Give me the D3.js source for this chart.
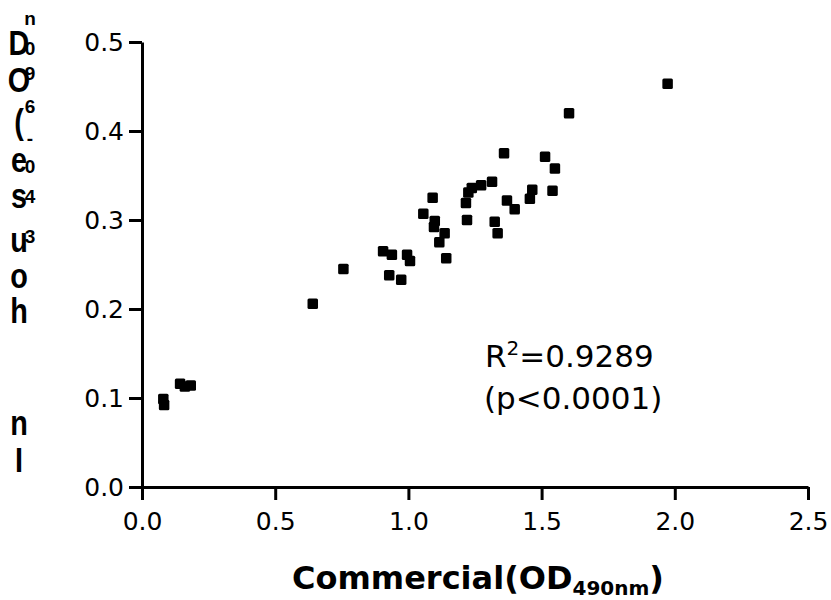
<!DOCTYPE html>
<html>
<head>
<meta charset="utf-8">
<script src="https://cdn.jsdelivr.net/npm/d3@7"></script>
<style>
  html, body { margin: 0; padding: 0; background: #fff; }
  svg { display: block; }
</style>
</head>
<body>
<svg id="chart" width="831" height="600"></svg>
<script>
// ---- data ----
const commercial = [1.973, 1.603, 1.359, 1.513, 1.550, 1.314, 1.273, 1.238, 1.225, 1.465,
                    1.456, 1.541, 1.091, 1.216, 1.370, 1.399, 1.056, 1.099, 1.096, 1.220,
                    1.324, 1.335, 1.136, 1.116, 1.142, 0.905, 0.938, 0.995, 1.006, 0.928,
                    0.973, 0.756, 0.641, 0.080, 0.083, 0.143, 0.161, 0.183];
const inHouse    = [0.453, 0.420, 0.375, 0.371, 0.358, 0.343, 0.339, 0.336, 0.331, 0.334,
                    0.324, 0.333, 0.325, 0.319, 0.322, 0.312, 0.307, 0.299, 0.292, 0.300,
                    0.298, 0.285, 0.285, 0.275, 0.257, 0.265, 0.261, 0.261, 0.254, 0.238,
                    0.233, 0.245, 0.206, 0.099, 0.092, 0.116, 0.113, 0.114];
const xTicks = [0.0, 0.5, 1.0, 1.5, 2.0, 2.5];
const yTicks = [0.0, 0.1, 0.2, 0.3, 0.4, 0.5];
const xTitleMain = "Commercial(OD";
const xTitleSub = "490nm";
const xTitleEnd = ")";
const statLine1 = ["R", "2", "=0.9289"];
const statLine2 = "(p<0.0001)";
// garbled vertical y-axis title, as it appears in the picture
const yTitleChars = ["D", "O", "(", "e", "s", "u", "o", "h", "n", "I"];
const yTitleSmall = ["n", "0", "9", "6", "-", "0", "4", "3"];

// ---- layout ----
const svg = d3.select("#chart");
const x = d3.scaleLinear().domain([0, 2.5]).range([142, 808]);
const y = d3.scaleLinear().domain([0, 0.5]).range([487, 42]);
const tickFont = "DejaVu Sans, Verdana, sans-serif";

const fmt = d3.format(".1f");

const xAxis = svg.append("g")
  .attr("transform", `translate(0,${y(0)})`)
  .call(d3.axisBottom(x).tickValues(xTicks).tickFormat(fmt).tickSize(13).tickSizeOuter(0).tickPadding(12));
const yAxis = svg.append("g")
  .attr("transform", `translate(${x(0)},0)`)
  .call(d3.axisLeft(y).tickValues(yTicks).tickFormat(fmt).tickSize(13).tickSizeOuter(0).tickPadding(5));

[xAxis, yAxis].forEach(g => {
  g.select(".domain").attr("stroke", "#000").attr("stroke-width", 3);
  g.selectAll(".tick line").attr("stroke", "#000").attr("stroke-width", 3);
  g.selectAll(".tick text").attr("fill", "#000")
    .style("font-family", tickFont).style("font-size", "25px");
});

// ---- points ----
const pts = commercial.map((c, i) => ({ c, h: inHouse[i] }));
const s = 10.5;
svg.append("g").selectAll("rect").data(pts).join("rect")
  .attr("x", d => x(d.c) - s / 2)
  .attr("y", d => y(d.h) - s / 2)
  .attr("width", s).attr("height", s)
  .attr("rx", 1.5)
  .attr("fill", "#000");

// ---- statistics annotation ----
const st = svg.append("text")
  .attr("x", 485).attr("y", 367)
  .style("font-family", tickFont).style("font-size", "31px").attr("fill", "#000");
st.append("tspan").text(statLine1[0]);
st.append("tspan").text(statLine1[1]).attr("dy", -12).style("font-size", "20px");
st.append("tspan").text(statLine1[2]).attr("dy", 12);
svg.append("text")
  .attr("x", 484).attr("y", 409)
  .style("font-family", tickFont).style("font-size", "31px").attr("fill", "#000")
  .text(statLine2);

// ---- x title ----
const xt = svg.append("text")
  .attr("x", 478).attr("y", 589).attr("text-anchor", "middle")
  .style("font-family", "DejaVu Sans, Verdana, sans-serif")
  .style("font-weight", "bold").style("font-size", "32px").attr("fill", "#000");
xt.append("tspan").text(xTitleMain);
xt.append("tspan").text(xTitleSub).attr("dy", 6).style("font-size", "20px");
xt.append("tspan").text(xTitleEnd).attr("dy", -6);

// ---- garbled y title ----
const mainBase = [55, 92, 134, 172, 208, 252, 288, 323, 435, 472];
const smallBase = [25, 55, 80, 113, 145, 173, 203, 243];
const yt = svg.append("g").attr("transform", "translate(19,0) scale(0.8,1)");
yt.selectAll("text.m").data(yTitleChars).join("text").attr("class", "m")
  .attr("x", 0).attr("y", (d, i) => mainBase[i])
  .attr("text-anchor", "middle")
  .style("font-family", "Liberation Sans, Arial, sans-serif")
  .style("font-weight", "bold").style("font-size", "36px").attr("fill", "#000")
  .text(d => d);
const ys = svg.append("g").attr("transform", "translate(30,0)");
ys.selectAll("text.s").data(yTitleSmall).join("text").attr("class", "s")
  .attr("x", 0).attr("y", (d, i) => smallBase[i])
  .attr("text-anchor", "middle")
  .style("font-family", "Liberation Sans, Arial, sans-serif")
  .style("font-weight", "bold").style("font-size", "19px").attr("fill", "#000")
  .text(d => d);
</script>
</body>
</html>
